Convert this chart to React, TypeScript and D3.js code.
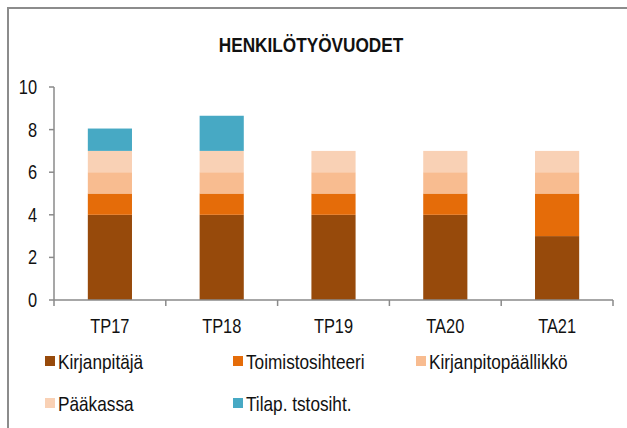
import React from "react";
import * as d3 from "d3";

const categories = ["TP17", "TP18", "TP19", "TA20", "TA21"];
const kirjanpitaja = [4, 4, 4, 4, 3];
const toimistosihteeri = [1, 1, 1, 1, 2];
const kirjanpitopaallikko = [1, 1, 1, 1, 1];
const paakassa = [1, 1, 1, 1, 1];
const tilap = [1.05, 1.65, 0, 0, 0];
const seriesNames = ["Kirjanpitäjä", "Toimistosihteeri", "Kirjanpitopäällikkö", "Pääkassa", "Tilap. tstosiht."];
const seriesColors = ["#974a0b", "#e56c09", "#f8bc90", "#f9d1b5", "#47a9c4"];
const yTicks = [0, 2, 4, 6, 8, 10];
const title = "HENKILÖTYÖVUODET";

const W = 627;
const H = 428;
const FONT = "'Liberation Sans', Arial, sans-serif";
const SX = 0.82;

function NText(props: { x: number; y: number; size: number; anchor?: string; bold?: boolean; children: React.ReactNode }) {
  return (
    <g transform={`translate(${props.x},${props.y}) scale(${SX},1)`}>
      <text
        x={0}
        y={0}
        textAnchor={props.anchor || "start"}
        fontSize={props.size}
        fontWeight={props.bold ? "bold" : "normal"}
        fill="#111"
      >
        {props.children}
      </text>
    </g>
  );
}

export default function App() {
  const seriesData = [kirjanpitaja, toimistosihteeri, kirjanpitopaallikko, paakassa, tilap];
  const rows = categories.map((c, i) => {
    const r: any = { cat: c };
    seriesNames.forEach((s, k) => (r[s] = seriesData[k][i]));
    return r;
  });
  const stack = d3.stack<any>().keys(seriesNames)(rows);

  const x = d3.scaleBand().domain(categories).range([54, 613]).paddingInner(0).paddingOuter(0);
  const y = d3.scaleLinear().domain([0, 10]).range([300, 87]);
  const barW = x.bandwidth() * 0.395;
  const axisColor = "#8a8a8a";

  const legendPos = [
    { x: 45, y: 356 },
    { x: 233, y: 356 },
    { x: 416, y: 356 },
    { x: 45, y: 398 },
    { x: 233, y: 398 },
  ];

  const boundaries = [...categories.map((c) => x(c) as number), 613];

  return (
    <svg width={W} height={H} style={{ position: "absolute", left: 0, top: 0, background: "#fff" }} fontFamily={FONT}>
      <rect x={0} y={0} width={W} height={H} fill="#fff" />
      <rect x={8} y={8} width={W + 20} height={H + 20} fill="#fff" stroke="#8c8c8c" strokeWidth={2} />
      <NText x={311} y={52} anchor="middle" bold size={21}>
        {title}
      </NText>
      {stack.map((layer, k) => (
        <g key={k} fill={seriesColors[k]}>
          {layer.map((d, i) =>
            d[1] - d[0] > 0 ? (
              <rect
                key={i}
                x={(x(categories[i]) as number) + x.bandwidth() / 2 - barW / 2}
                y={y(d[1])}
                width={barW}
                height={y(d[0]) - y(d[1])}
              />
            ) : null
          )}
        </g>
      ))}
      {/* y axis */}
      <line x1={54} x2={54} y1={y(10)} y2={y(0)} stroke={axisColor} strokeWidth={1.5} />
      {yTicks.map((t) => (
        <g key={t}>
          <line x1={49} x2={54} y1={y(t)} y2={y(t)} stroke={axisColor} strokeWidth={1.5} />
          <NText x={37} y={y(t) + 7} anchor="end" size={20}>
            {t}
          </NText>
        </g>
      ))}
      {/* x axis */}
      <line x1={54} x2={613} y1={y(0)} y2={y(0)} stroke={axisColor} strokeWidth={1.5} />
      {boundaries.map((b, i) => (
        <line key={i} x1={b} x2={b} y1={y(0)} y2={y(0) + 6} stroke={axisColor} strokeWidth={1.5} />
      ))}
      {categories.map((c) => (
        <NText key={c} x={(x(c) as number) + x.bandwidth() / 2} y={333} anchor="middle" size={20}>
          {c}
        </NText>
      ))}
      {/* legend */}
      {seriesNames.map((s, k) => (
        <g key={s}>
          <rect x={legendPos[k].x} y={legendPos[k].y} width={10} height={10} fill={seriesColors[k]} />
          <NText x={legendPos[k].x + 13} y={legendPos[k].y + 13} size={21}>
            {s}
          </NText>
        </g>
      ))}
    </svg>
  );
}
